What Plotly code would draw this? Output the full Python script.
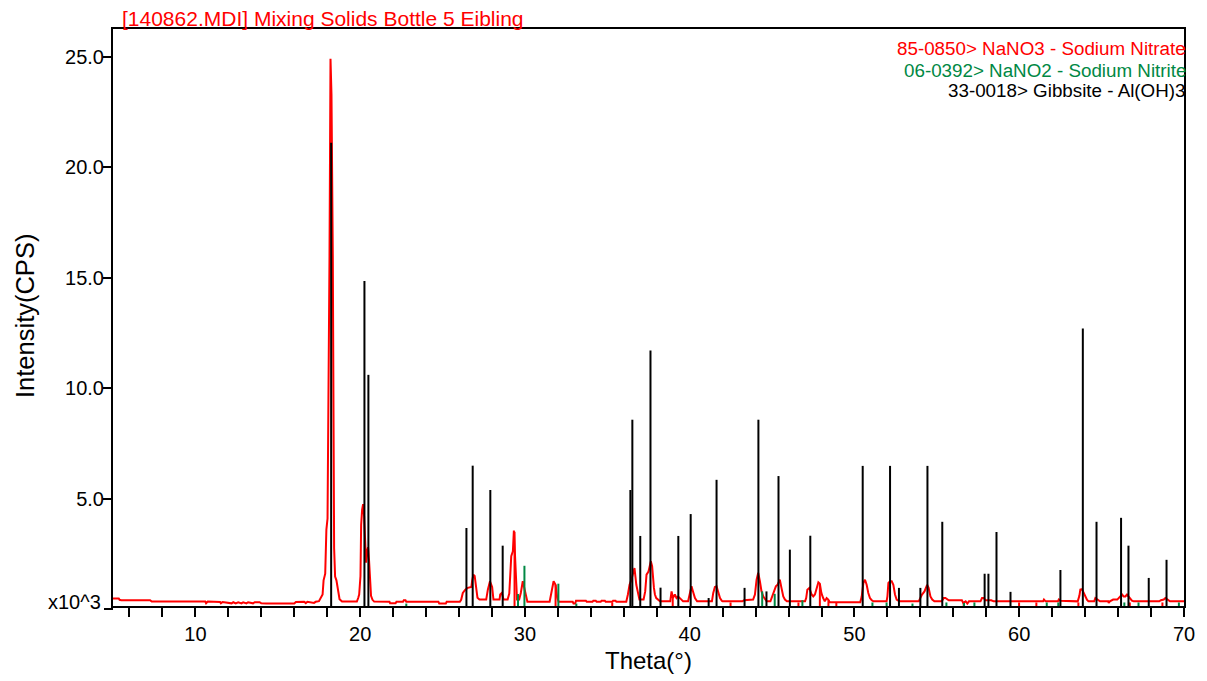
import plotly.graph_objects as go

# ---------------- data (intensity in x10^3 CPS) ----------------
theta = [5.0, 5.35, 5.4, 5.5, 7.25, 7.35, 10.6, 10.65, 10.75, 11.5, 11.55, 11.65, 12.2, 12.3, 12.45,
         12.6, 12.8, 12.9, 13.1, 13.2, 13.5, 13.6, 13.9, 14.0, 14.3, 16.0, 16.1, 16.6, 16.7, 16.8,
         17.2, 17.3, 17.5, 17.6, 17.72, 17.78, 17.88, 17.95, 18.02, 18.14, 18.2, 18.26, 18.34, 18.42,
         18.48, 18.56, 18.64, 18.75, 18.9, 19.8, 19.88, 19.94, 20.02, 20.06, 20.12, 20.18, 20.24, 20.3,
         20.36, 20.42, 20.48, 20.54, 20.6, 20.66, 20.75, 20.85, 21.78, 21.82, 22.15, 22.2, 22.6, 22.65,
         22.75, 22.8, 24.75, 24.8, 25.2, 25.25, 26.05, 26.13, 26.23, 26.38, 26.53, 26.65, 26.75, 26.8,
         26.87, 26.95, 27.04, 27.12, 27.24, 27.65, 27.75, 27.88, 28.01, 28.09, 28.46, 28.5, 28.6, 28.7,
         28.95, 29.05, 29.17, 29.27, 29.33, 29.39, 29.43, 29.47, 29.52, 29.65, 29.75, 29.87, 29.95,
         30.08, 30.15, 31.5, 31.6, 31.74, 31.86, 31.96, 32.05, 32.9, 32.95, 33.05, 33.1, 33.7, 33.75,
         34.1, 34.15, 34.3, 34.35, 34.6, 34.65, 34.85, 34.9, 35.3, 35.35, 35.5, 35.55, 36.15, 36.25,
         36.35, 36.45, 36.55, 36.65, 36.76, 36.86, 36.95, 37.2, 37.3, 37.38, 37.5, 37.64, 37.72, 37.83,
         37.89, 37.97, 38.1, 38.2, 38.82, 38.9, 38.98, 39.1, 39.2, 39.3, 39.5, 39.6, 39.9, 39.95, 40.01,
         40.11, 40.2, 40.32, 40.45, 41.35, 41.43, 41.53, 41.63, 41.74, 41.84, 41.95, 42.0, 43.2, 43.3,
         43.85, 43.96, 44.06, 44.16, 44.26, 44.36, 44.47, 44.57, 44.67, 44.9, 45.07, 45.23, 45.33,
         45.47, 45.57, 45.68, 45.78, 45.9, 47.0, 47.07, 47.14, 47.26, 47.4, 47.5, 47.6, 47.7, 47.81,
         47.9, 47.99, 48.1, 48.2, 48.31, 48.41, 48.5, 50.35, 50.44, 50.54, 50.64, 50.74, 50.84, 50.94,
         51.05, 51.15, 51.95, 52.0, 52.06, 52.16, 52.26, 52.36, 52.46, 52.56, 52.66, 52.75, 53.9, 53.98,
         54.1, 54.25, 54.41, 54.5, 54.61, 54.72, 54.85, 55.3, 55.42, 55.52, 55.62, 55.72, 56.52, 56.6,
         56.75, 56.85, 56.95, 57.65, 57.74, 57.85, 57.95, 58.3, 58.45, 61.45, 61.5, 61.6, 62.35, 62.4,
         62.5, 63.55, 63.65, 63.71, 63.81, 63.91, 64.01, 64.11, 64.2, 64.55, 64.62, 64.72, 64.82, 64.9,
         65.4, 65.43, 65.5, 65.7, 65.95, 66.05, 66.14, 66.24, 66.34, 66.44, 66.54, 66.64, 66.74, 66.84,
         66.95, 68.5, 68.6, 68.77, 68.87, 68.97, 69.07, 69.15, 70.0]
intensity = [0.48, 0.48, 0.42, 0.40, 0.40, 0.34, 0.34, 0.26, 0.34, 0.32, 0.26, 0.32, 0.26, 0.31, 0.26,
             0.31, 0.26, 0.31, 0.26, 0.31, 0.26, 0.31, 0.31, 0.26, 0.25, 0.25, 0.32, 0.33, 0.27, 0.33,
             0.28, 0.33, 0.36, 0.5, 0.66, 1.3, 1.6, 3.6, 4.1, 16.0, 24.9, 23.3, 16.0, 2.75,
             1.47, 1.3, 0.9, 0.45, 0.34, 0.34, 0.5, 0.66, 1.5, 3.8, 4.5, 4.75, 4.2, 3.0,
             2.1, 2.6, 2.8, 2.2, 1.2, 0.6, 0.42, 0.34, 0.33, 0.26, 0.26, 0.33, 0.33, 0.4,
             0.4, 0.33, 0.33, 0.25, 0.25, 0.33, 0.33, 0.42, 0.73, 0.88, 0.96, 1.0, 1.0, 1.3,
             1.56, 1.5, 0.88, 0.51, 0.43, 0.43, 0.88, 1.26, 1.0, 0.43, 0.43, 0.66, 0.73, 0.43,
             0.43, 0.7, 2.39, 2.62, 3.55, 2.39, 1.33, 0.99, 0.43, 0.43, 0.73, 1.26, 1.0,
             0.43, 0.33, 0.33, 0.81, 1.26, 1.1, 0.51, 0.33, 0.33, 0.25, 0.25, 0.38, 0.38, 0.33,
             0.33, 0.38, 0.38, 0.33, 0.33, 0.38, 0.38, 0.33, 0.33, 0.38, 0.38, 0.33, 0.33, 0.66,
             1.1, 1.3, 1.56, 1.86, 1.1, 0.81, 0.43, 0.43, 0.8, 1.56, 1.7, 2.16, 1.94, 0.96,
             0.66, 0.5, 0.4, 0.35, 0.35, 0.8, 0.5, 0.66, 0.5, 0.57, 0.43, 0.35, 0.35, 0.5, 0.8,
             1.03, 0.8, 0.5, 0.35, 0.35, 0.73, 1.0, 1.03, 0.8, 0.5, 0.38, 0.35, 0.35, 0.4,
             0.43, 0.66, 1.33, 1.64, 1.26, 0.8, 0.57, 0.43, 0.35, 0.35, 0.66, 1.03, 1.1,
             1.33, 0.96, 0.57, 0.43, 0.35, 0.35, 0.5, 0.88, 0.96, 0.66, 0.57, 0.66, 0.96, 1.21,
             1.15, 0.73, 0.5, 0.35, 0.5, 0.43, 0.31, 0.31, 0.57, 1.18, 1.33, 1.1, 0.73, 0.5,
             0.4, 0.35, 0.35, 0.57, 1.18, 1.26, 1.26, 1.1, 0.66, 0.43, 0.38, 0.35, 0.35, 0.5,
             0.66, 0.8, 1.1, 0.96, 0.57, 0.43, 0.35, 0.35, 0.5, 0.5, 0.43, 0.4, 0.4, 0.28,
             0.35, 0.25, 0.35, 0.35, 0.5, 0.5, 0.4, 0.4, 0.35, 0.35, 0.43, 0.35, 0.35, 0.43,
             0.38, 0.35, 0.6, 0.88, 0.9, 0.73, 0.57, 0.43, 0.35, 0.35, 0.5, 0.43, 0.38, 0.35,
             0.35, 0.28, 0.35, 0.43, 0.43, 0.5, 0.57, 0.66, 0.57, 0.57, 0.66, 0.57, 0.43, 0.38,
             0.35, 0.35, 0.4, 0.43, 0.5, 0.43, 0.38, 0.35, 0.35]

# 33-0018 Gibbsite - Al(OH)3 reference lines
gibbsite_theta = [18.24, 20.26, 20.5, 26.45, 26.83, 27.9, 28.65, 36.4, 36.52, 37.0, 37.62, 38.23,
                  39.31, 40.06, 41.15, 41.63, 43.33, 44.17, 44.66, 45.39, 46.08, 47.32, 50.5, 52.16,
                  52.7, 54.0, 54.43, 55.33, 57.9, 58.13, 58.62, 59.47, 62.5, 63.86, 64.69, 66.18,
                  66.63, 67.86, 68.94]
gibbsite_height = [21.1, 14.85, 10.6, 3.67, 6.49, 5.39, 2.87, 5.39, 8.57, 3.31, 11.7, 0.97,
                   3.31, 4.3, 0.5, 5.85, 0.96, 8.57, 0.8, 6.02, 2.69, 3.32, 6.48, 6.48,
                   0.96, 0.96, 6.48, 3.95, 1.6, 1.6, 3.49, 0.78, 1.77, 12.7, 3.95, 4.13,
                   2.87, 1.41, 2.23]

# 06-0392 NaNO2 - Sodium Nitrite reference lines
nitrite_theta = [22.8, 29.58, 29.97, 32.03, 33.12, 44.4, 45.16, 46.84, 51.09, 51.95, 53.52, 55.58,
                 56.65, 57.28, 61.67, 62.37, 66.38, 67.24, 69.69]
nitrite_height = [0.25, 0.68, 1.96, 1.15, 0.25, 0.8, 0.69, 0.4, 0.3, 0.3, 0.25, 0.3,
                  0.28, 0.3, 0.3, 0.3, 0.3, 0.3, 0.3]

# 85-0850 NaNO3 - Sodium Nitrate reference lines
nitrate_theta = [29.37, 31.86, 35.3, 38.97, 42.48, 46.6, 47.9, 48.42, 48.9, 56.63, 59.99, 61.04,
                 63.59, 66.71, 68.69]
nitrate_height = [3.5, 1.1, 0.3, 0.5, 0.3, 0.3, 1.1, 0.4, 0.3, 0.3, 0.3, 0.3,
                  0.3, 0.3, 0.3]

y_tickvals = [5, 10, 15, 20, 25]
y_ticktext = ["5.0", "10.0", "15.0", "20.0", "25.0"]

title_text = "[140862.MDI] Mixing Solids Bottle 5 Eibling"
legend_texts = ["85-0850> NaNO3 - Sodium Nitrate",
                "06-0392> NaNO2 - Sodium Nitrite",
                "33-0018> Gibbsite - Al(OH)3"]

RED = "#FF0000"
GREEN = "#008844"
BLACK = "#000000"
FONT = "Liberation Sans, Arial, sans-serif"


def sticks(xs, hs):
    sx, sy = [], []
    for x, h in zip(xs, hs):
        sx += [x, x, None]
        sy += [0, h, None]
    return sx, sy


fig = go.Figure()
fig.add_trace(go.Scatter(x=theta, y=intensity, mode="lines",
                         line=dict(color=RED, width=2), hoverinfo="skip"))
for xs, hs, col in [(nitrate_theta, nitrate_height, RED),
                    (nitrite_theta, nitrite_height, GREEN),
                    (gibbsite_theta, gibbsite_height, BLACK)]:
    sx, sy = sticks(xs, hs)
    fig.add_trace(go.Scatter(x=sx, y=sy, mode="lines",
                             line=dict(color=col, width=2), hoverinfo="skip"))

# page offset of the plot div (body margin)
OFF = 8
# plot area in page pixels: x 113..1184, y 29..606
PL, PR, PT, PB = 113, 1184, 29, 606
W, H = 1199, 673
L = PL - OFF
T = PT - OFF
R = W - (PR - OFF)
B = H - (PB - OFF)
pw, ph = PR - PL, PB - PT


def px(xp):
    return (xp - PL) / pw


def py(yp):
    return (PB - yp) / ph


fig.update_layout(
    width=W, height=H,
    margin=dict(l=L, r=R, t=T, b=B),
    paper_bgcolor="white", plot_bgcolor="white",
    showlegend=False,
    font=dict(family=FONT, color="black", size=20),
    xaxis=dict(range=[5, 70], tickmode="linear", tick0=0, dtick=10,
               ticks="outside", ticklen=9, tickwidth=2, tickcolor="black",
               showline=True, linecolor="black", linewidth=2, mirror=True,
               showgrid=False, zeroline=False,
               tickfont=dict(size=20, family=FONT),
               minor=dict(dtick=2, tick0=0, ticks="outside", ticklen=9,
                          tickwidth=2, tickcolor="black", showgrid=False)),
    yaxis=dict(range=[0.14, 26.25], tickvals=y_tickvals, ticktext=y_ticktext,
               ticks="outside", ticklen=8, tickwidth=2, tickcolor="black",
               showline=True, linecolor="black", linewidth=2, mirror=True,
               showgrid=False, zeroline=False, ticklabelstandoff=-5,
               tickfont=dict(size=20, family=FONT)),
)

ann = []
ann.append(dict(text=title_text, x=px(120), y=py(18.5), xref="paper", yref="paper",
                xanchor="left", yanchor="middle", showarrow=False,
                font=dict(size=21, color=RED, family=FONT)))
for txt, yp, col in zip(legend_texts, [48.8, 70.8, 91], [RED, GREEN, BLACK]):
    ann.append(dict(text=txt, x=px(1188), y=py(yp), xref="paper", yref="paper",
                    xanchor="right", yanchor="middle", showarrow=False,
                    font=dict(size=18.8, color=col, family=FONT)))
ann.append(dict(text="Theta(°)", x=0.5, y=py(660), xref="paper", yref="paper",
                xanchor="center", yanchor="middle", showarrow=False,
                font=dict(size=24, color="black", family=FONT)))
ann.append(dict(text="Intensity(CPS)", x=px(25), y=py(316), xref="paper", yref="paper",
                xanchor="center", yanchor="middle", showarrow=False, textangle=-90,
                font=dict(size=25.5, color="black", family=FONT)))
ann.append(dict(text="x10^3", x=px(103), y=py(601.5), xref="paper", yref="paper",
                xanchor="right", yanchor="middle", showarrow=False,
                font=dict(size=20, color="black", family=FONT)))
fig.update_layout(annotations=ann)
fig.add_shape(type="line", xref="paper", yref="paper", x0=px(104), x1=px(113),
              y0=py(609), y1=py(609), line=dict(color="black", width=2))

fig.write_html("out.html")
